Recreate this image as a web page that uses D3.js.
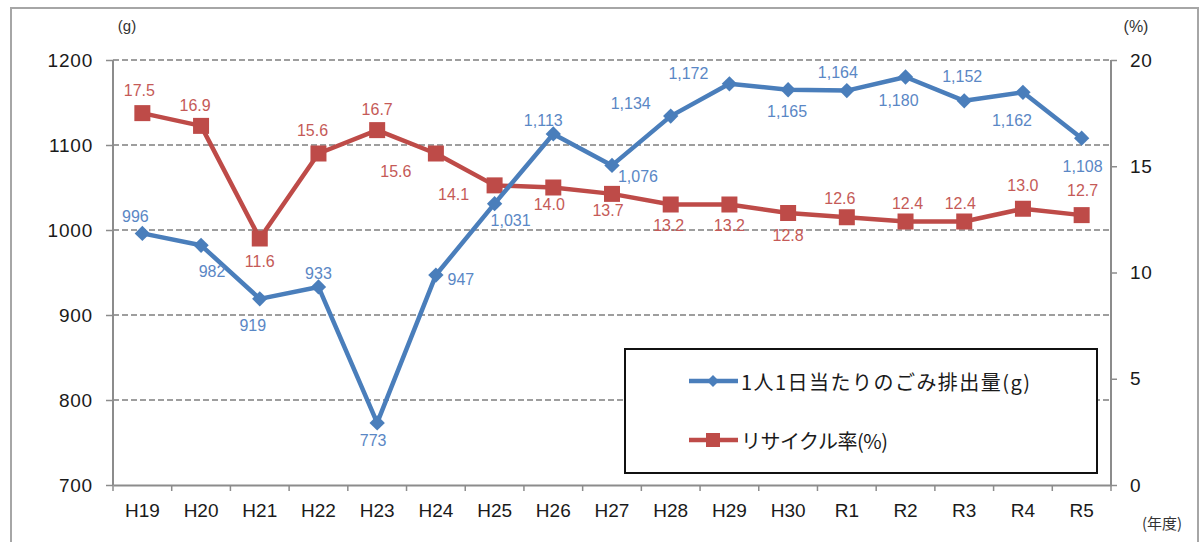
<!DOCTYPE html>
<html>
<head>
<meta charset="utf-8">
<script src="https://cdn.jsdelivr.net/npm/d3@7"></script>
<style>
  html, body { margin: 0; padding: 0; background: #fff; }
  svg { display: block; }
  text { font-family: "Liberation Sans", Arial, "Noto Sans CJK JP", sans-serif; }
</style>
</head>
<body>
<svg id="chart" width="1204" height="542"></svg>
<script>
// Fiscal years
const years = ["H19","H20","H21","H22","H23","H24","H25","H26","H27","H28","H29","H30","R1","R2","R3","R4","R5"];
// Waste per person per day (g)
const wastePerDay = [996, 982, 919, 933, 773, 947, 1031, 1113, 1076, 1134, 1172, 1165, 1164, 1180, 1152, 1162, 1108];
// Recycling rate (%)
const recycleRate = [17.5, 16.9, 11.6, 15.6, 16.7, 15.6, 14.1, 14.0, 13.7, 13.2, 13.2, 12.8, 12.6, 12.4, 12.4, 13.0, 12.7];
// Axis ticks
const leftTicks = [700, 800, 900, 1000, 1100, 1200];
const rightTicks = [0, 5, 10, 15, 20];

const seriesNames = ["1人1日当たりのごみ排出量(g)", "リサイクル率(%)"];

// Label offsets (dx, dy) from each point, to keep labels clear of the lines
const wasteLabelOffset = [
  [-7,-17],[11,26],[-7,27],[0,-13],[-4,18],[25,4],[16,17],[-10,-13],[26,11],[-40,-13],
  [-41,-10],[-1,22],[-9,-18],[-7,23],[-2,-24],[-11,28],[1,28]
];
const recycleLabelOffset = [
  [-3,-23],[-6,-20],[0,23],[-6,-23],[0,-21],[-40,18],[-41,9],[-4,17],[-4,17],[-2,21],
  [0,21],[0,22],[-7,-19],[2,-18],[-4,-18],[0,-23],[1,-25]
];

const svg = d3.select("#chart");
const plot = { left: 113, right: 1111, top: 60, bottom: 485 };

// Outer frame
svg.append("rect")
  .attr("x", 11).attr("y", 8).attr("width", 1187).attr("height", 560)
  .attr("fill", "none").attr("stroke", "#a6a6a6").attr("stroke-width", 2);

const x = d3.scaleBand().domain(years).range([plot.left, plot.right]);
const yL = d3.scaleLinear().domain([700, 1200]).range([plot.bottom, plot.top]);
const yR = d3.scaleLinear().domain([0, 20]).range([plot.bottom, plot.top]);
const cx = d => x(d) + x.bandwidth() / 2;

// Dashed gridlines
svg.append("g").selectAll("line")
  .data(leftTicks.filter(t => t > 700))
  .join("line")
  .attr("x1", plot.left).attr("x2", plot.right)
  .attr("y1", d => yL(d)).attr("y2", d => yL(d))
  .attr("stroke", "#7f7f7f").attr("stroke-width", 1.3)
  .attr("stroke-dasharray", "6,3");

const axisColor = "#8c8c8c";

// Left axis
const gL = svg.append("g").attr("transform", `translate(${plot.left},0)`)
  .call(d3.axisLeft(yL).tickValues(leftTicks).tickSize(7).tickPadding(13).tickFormat(d3.format("d")));
// Right axis
const gR = svg.append("g").attr("transform", `translate(${plot.right},0)`)
  .call(d3.axisRight(yR).tickValues(rightTicks).tickSize(6).tickPadding(13).tickFormat(d3.format("d")));
// Bottom axis: ticks between categories
const gB = svg.append("g").attr("transform", `translate(0,${plot.bottom})`)
  .call(d3.axisBottom(x).tickSize(0).tickPadding(19));
gB.selectAll(".tickmark").data(d3.range(years.length + 1)).join("line")
  .attr("class", "tickmark")
  .attr("x1", i => plot.left + i * x.step()).attr("x2", i => plot.left + i * x.step())
  .attr("y1", 0).attr("y2", 6).attr("stroke", axisColor).attr("stroke-width", 1.5);

[gL, gR, gB].forEach(g => {
  g.select(".domain").attr("stroke", axisColor).attr("stroke-width", 2);
  g.selectAll(".tick line").attr("stroke", axisColor).attr("stroke-width", 1.5);
  g.selectAll(".tick text").attr("fill", "#1a1a1a").style("font-size", "19px")
    .style("font-family", "'Liberation Sans', Arial, sans-serif");
});
gL.selectAll(".tick text").style("letter-spacing", "0.8px");
gR.selectAll(".tick text").style("letter-spacing", "0.8px");
gL.select(".domain").attr("d", `M0,${plot.top}V${plot.bottom}`);
gR.select(".domain").attr("d", `M0,${plot.top}V${plot.bottom}`);

// Unit labels
svg.append("text").attr("x", 127).attr("y", 31).attr("text-anchor", "middle")
  .style("font-size", "15px").attr("fill", "#333").text("(g)");
svg.append("text").attr("x", 1136).attr("y", 32).attr("text-anchor", "middle")
  .style("font-size", "16px").attr("fill", "#333").text("(%)");
svg.append("text").attr("x", 1162).attr("y", 529).attr("text-anchor", "middle")
  .style("font-size", "15px").attr("fill", "#333")
  .style("font-family", "'Noto Sans CJK JP', sans-serif").text("(年度)");

const blue = "#4a7ebb", red = "#be4b48";
const blueText = "#5a87c5", redText = "#c55a57";

// Recycling rate line and square markers
const lineR = d3.line().x((d, i) => cx(years[i])).y(d => yR(d));
svg.append("path").datum(recycleRate).attr("d", lineR)
  .attr("fill", "none").attr("stroke", red).attr("stroke-width", 4.5).attr("stroke-linejoin", "round");
svg.append("g").selectAll("rect").data(recycleRate).join("rect")
  .attr("x", (d, i) => cx(years[i]) - 8).attr("y", d => yR(d) - 8)
  .attr("width", 16).attr("height", 16).attr("fill", red);

// Waste per day line and diamond markers
const lineL = d3.line().x((d, i) => cx(years[i])).y(d => yL(d));
svg.append("path").datum(wastePerDay).attr("d", lineL)
  .attr("fill", "none").attr("stroke", blue).attr("stroke-width", 4.5).attr("stroke-linejoin", "round");
const diamond = d3.symbol().type(d3.symbolDiamond2).size(150);
svg.append("g").selectAll("path").data(wastePerDay).join("path")
  .attr("transform", (d, i) => `translate(${cx(years[i])},${yL(d)})`)
  .attr("d", diamond).attr("fill", blue);

// Value labels
svg.append("g").selectAll("text").data(recycleRate).join("text")
  .attr("x", (d, i) => cx(years[i]) + recycleLabelOffset[i][0])
  .attr("y", (d, i) => yR(d) + recycleLabelOffset[i][1])
  .attr("text-anchor", "middle").attr("dominant-baseline", "central")
  .style("font-size", "16px").attr("fill", redText)
  .text(d => d3.format(".1f")(d));
svg.append("g").selectAll("text").data(wastePerDay).join("text")
  .attr("x", (d, i) => cx(years[i]) + wasteLabelOffset[i][0])
  .attr("y", (d, i) => yL(d) + wasteLabelOffset[i][1])
  .attr("text-anchor", "middle").attr("dominant-baseline", "central")
  .style("font-size", "16px").attr("fill", blueText)
  .text(d => d3.format(",")(d));

// Legend
const lg = svg.append("g");
lg.append("rect").attr("x", 625).attr("y", 349).attr("width", 472).attr("height", 124)
  .attr("fill", "#fff").attr("stroke", "#111").attr("stroke-width", 2);
const legendItems = [
  { name: seriesNames[0], color: blue, y: 381, marker: "diamond", len: 289 },
  { name: seriesNames[1], color: red, y: 440, marker: "square", len: 147 }
];
legendItems.forEach(it => {
  lg.append("line").attr("x1", 689).attr("x2", 738).attr("y1", it.y).attr("y2", it.y)
    .attr("stroke", it.color).attr("stroke-width", 4.5);
  if (it.marker === "diamond") {
    lg.append("path").attr("transform", `translate(713,${it.y})`)
      .attr("d", d3.symbol().type(d3.symbolDiamond2).size(90)).attr("fill", it.color);
  } else {
    lg.append("rect").attr("x", 706).attr("y", it.y - 7).attr("width", 14).attr("height", 14)
      .attr("fill", it.color);
  }
  lg.append("text").attr("x", 741).attr("y", it.y).attr("dominant-baseline", "central")
    .style("font-size", "20px").style("font-family", "'Noto Sans CJK JP', sans-serif")
    .attr("textLength", it.len).attr("lengthAdjust", "spacing")
    .attr("fill", "#1a1a1a").text(it.name);
});
</script>
</body>
</html>
